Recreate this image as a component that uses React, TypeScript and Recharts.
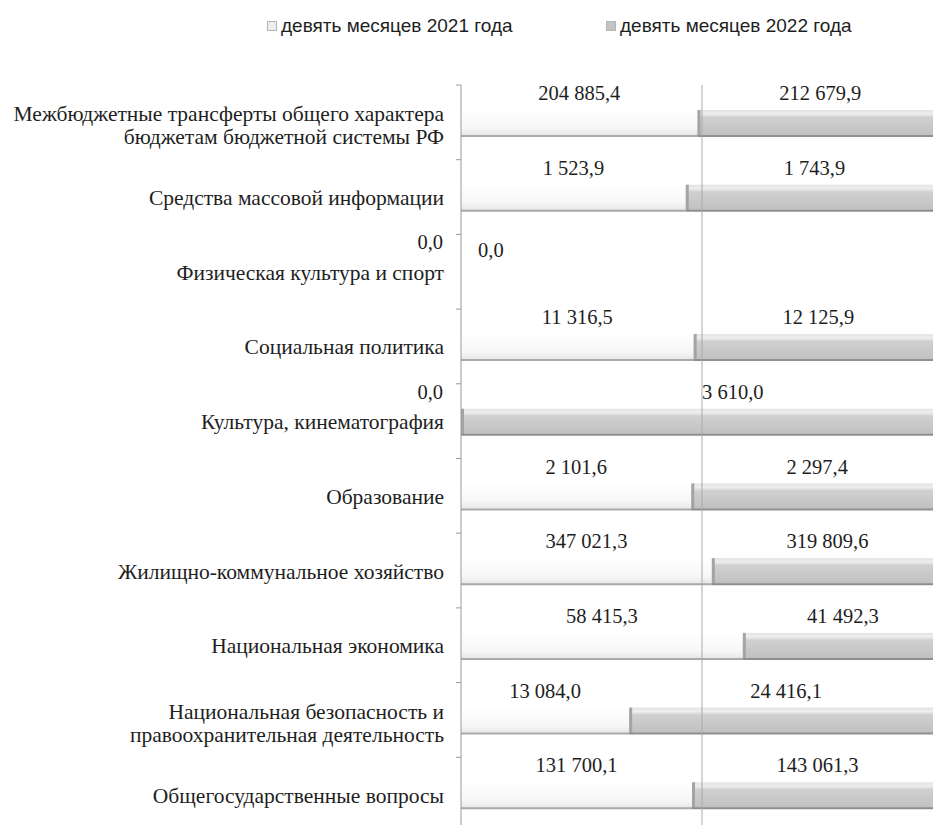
import React from 'react';
import { BarChart, Bar, XAxis, YAxis, ReferenceLine, Legend, LabelList } from 'recharts';

const categories = [
  'Межбюджетные трансферты общего характера|бюджетам бюджетной системы РФ',
  'Средства массовой информации',
  'Физическая культура и спорт',
  'Социальная политика',
  'Культура, кинематография',
  'Образование',
  'Жилищно-коммунальное хозяйство',
  'Национальная экономика',
  'Национальная безопасность и|правоохранительная деятельность',
  'Общегосударственные вопросы',
];

const values2021 = [204885.4, 1523.9, 0, 11316.5, 0, 2101.6, 347021.3, 58415.3, 13084.0, 131700.1];
const values2022 = [212679.9, 1743.9, 0, 12125.9, 3610.0, 2297.4, 319809.6, 41492.3, 24416.1, 143061.3];

const seriesNames = ['девять месяцев 2021 года', 'девять месяцев 2022 года'];

// 100% stacked shares, built from the values above
const data = categories.map((name, i) => {
  const total = values2021[i] + values2022[i];
  return {
    name,
    v2021: values2021[i],
    v2022: values2022[i],
    p2021: total ? (values2021[i] / total) * 100 : 0,
    p2022: total ? (values2022[i] / total) * 100 : 0,
  };
});

const W = 960;
const H = 840;
const MARGIN = { top: 77, right: 25, bottom: 16, left: 0 };
const AXIS_W = 453;
const BAND = (H - MARGIN.top - MARGIN.bottom) / categories.length;
const SERIF = '"Liberation Serif", "Times New Roman", serif';
const SANS = '"Liberation Sans", Arial, sans-serif';
const TEXT = '#1e1e1e';

function fmt(v: number) {
  const [int, dec] = v.toFixed(1).split('.');
  return int.replace(/\B(?=(\d{3})+(?!\d))/g, ' ') + ',' + dec;
}

function CategoryTick(props: any) {
  const { y, payload } = props;
  const lines = String(payload.value).split('|');
  const start = lines.length > 1 ? -8 : 1;
  return (
    <g>
      <line x1={AXIS_W - 5} x2={AXIS_W} y1={y - BAND / 2} y2={y - BAND / 2} stroke="#999" />
      <text x={AXIS_W - 17} y={y} textAnchor="end" fontFamily={SERIF} fontSize={21.5} fill={TEXT}>
        {lines.map((l, i) => (
          <tspan key={i} x={AXIS_W - 17} y={y + start + i * 23} dominantBaseline="central">{l}</tspan>
        ))}
      </text>
    </g>
  );
}

function Bar2021(props: any) {
  const { x, y, width, height } = props;
  if (!width || width <= 0) return null;
  return (
    <g>
      <rect x={x} y={y} width={width} height={height} fill="url(#g21)" />
      <line x1={x} x2={x + width} y1={y + height} y2={y + height} stroke="#a9a9a9" strokeWidth={2} />
    </g>
  );
}

function Bar2022(props: any) {
  const { x, y, width, height } = props;
  if (!width || width <= 0) return null;
  return (
    <g>
      <rect x={x} y={y + 1} width={width} height={height - 1} fill="url(#g22)" />
      <rect x={x} y={y + 1} width={3} height={height - 1} fill="#a4a4a4" />
      <line x1={x} x2={x + width} y1={y + height} y2={y + height} stroke="#8f8f8f" strokeWidth={2} />
    </g>
  );
}

function makeLabel(series: '2021' | '2022') {
  return (props: any) => {
    const { x, y, width, value, index } = props;
    const ty = y - 16;
    let tx = x + width / 2;
    let anchor: 'start' | 'middle' | 'end' = 'middle';
    if (series === '2021' && value === 0) {
      tx = x - 18;
      anchor = 'end';
    } else if (series === '2022' && value === 0) {
      tx = x + 17;
      anchor = 'start';
    } else if (series === '2022' && values2021[index] === 0) {
      anchor = 'start';
    }
    return (
      <text x={tx} y={series === '2022' && value === 0 ? ty + 8 : ty} textAnchor={anchor}
        dominantBaseline="central" fontFamily={SERIF} fontSize={20.5} fill={TEXT}>
        {fmt(value)}
      </text>
    );
  };
}

function LegendContent() {
  const item = (left: number, name: string, fill: string) => (
    <div style={{ position: 'absolute', left, top: 0, display: 'flex', alignItems: 'center' }}>
      <span style={{ width: 8, height: 8, background: fill, border: '1px solid #b5b5b5', marginRight: 4 }} />
      <span style={{ fontFamily: SANS, fontSize: 19, color: TEXT, whiteSpace: 'nowrap' }}>{name}</span>
    </div>
  );
  return (
    <div style={{ position: 'relative', height: 24, width: 925 }}>
      {item(259, seriesNames[0], '#ececec')}
      {item(598, seriesNames[1], '#c4c4c4')}
    </div>
  );
}

export default function App() {
  return (
    <div style={{ position: 'fixed', left: 8, top: 8, width: 925, height: 817, overflow: 'hidden', background: '#fff' }}>
      <BarChart width={W} height={H} data={data} layout="vertical" margin={MARGIN}>
        <defs>
          <linearGradient id="g21" x1="0" y1="0" x2="0" y2="1">
            <stop offset="0%" stopColor="#ffffff" />
            <stop offset="70%" stopColor="#f7f7f7" />
            <stop offset="100%" stopColor="#e6e6e6" />
          </linearGradient>
          <linearGradient id="g22" x1="0" y1="0" x2="0" y2="1">
            <stop offset="0%" stopColor="#e2e2e2" />
            <stop offset="15%" stopColor="#eeeeee" />
            <stop offset="28%" stopColor="#d0d0d0" />
            <stop offset="100%" stopColor="#c0c0c0" />
          </linearGradient>
        </defs>
        <Legend layout="horizontal" verticalAlign="middle" align="center"
          wrapperStyle={{ top: 7, left: 0, width: 925 }} content={<LegendContent />} />
        <XAxis type="number" domain={[0, 100]} hide />
        <YAxis type="category" dataKey="name" width={AXIS_W} interval={0}
          axisLine={{ stroke: '#999' }} tickLine={false} tick={<CategoryTick />} />
        <ReferenceLine x={50} stroke="#aaa" />
        <Bar dataKey="p2021" stackId="a" barSize={27} shape={<Bar2021 />} isAnimationActive={false}>
          <LabelList dataKey="v2021" content={makeLabel('2021')} />
        </Bar>
        <Bar dataKey="p2022" stackId="a" barSize={27} shape={<Bar2022 />} isAnimationActive={false}>
          <LabelList dataKey="v2022" content={makeLabel('2022')} />
        </Bar>
      </BarChart>
    </div>
  );
}
